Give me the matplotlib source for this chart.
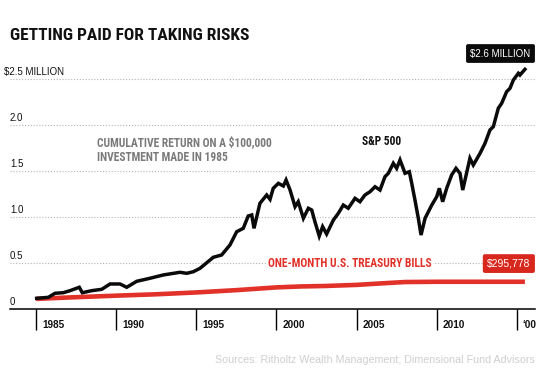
import matplotlib
matplotlib.use("Agg")
from matplotlib import pyplot as plt
from matplotlib import font_manager

# S&P 500 growth of $100,000 (millions)
spYears = [1985.04, 1985.77, 1986.19, 1986.70, 1987.12, 1987.70, 1987.89, 1988.47, 1989.10, 1989.62,
           1990.24, 1990.66, 1991.28, 1992.11, 1992.94, 1993.98, 1994.40, 1994.81, 1995.23, 1996.06,
           1996.58, 1997.10, 1997.52, 1997.93, 1998.24, 1998.46, 1998.60, 1998.97, 1999.39, 1999.60,
           1999.80, 2000.12, 2000.43, 2000.60, 2000.85, 2001.16, 2001.36, 2001.68, 2001.99, 2002.20,
           2002.40, 2002.67, 2002.88, 2003.13, 2003.55, 2003.86, 2004.17, 2004.48, 2004.90, 2005.21,
           2005.52, 2005.84, 2006.15, 2006.46, 2006.77, 2006.98, 2007.29, 2007.50, 2007.71, 2008.02,
           2008.29, 2008.44, 2008.64, 2008.85, 2009.02, 2009.27, 2009.69, 2010.00, 2010.16, 2010.37,
           2010.62, 2010.93, 2011.20, 2011.45, 2011.62, 2012.07, 2012.28, 2012.70, 2013.01, 2013.32,
           2013.53, 2013.84, 2014.05, 2014.36, 2014.57, 2014.78, 2015.09, 2015.19, 2015.50]
spVals = [0.116, 0.127, 0.171, 0.177, 0.199, 0.236, 0.177, 0.199, 0.214, 0.272,
          0.272, 0.236, 0.301, 0.334, 0.370, 0.399, 0.388, 0.405, 0.442, 0.562,
          0.587, 0.696, 0.840, 0.877, 1.011, 1.022, 0.877, 1.149, 1.239, 1.192,
          1.312, 1.366, 1.337, 1.402, 1.293, 1.112, 1.166, 0.986, 1.095, 1.076,
          0.949, 0.793, 0.895, 0.815, 0.967, 1.040, 1.130, 1.095, 1.203, 1.166,
          1.239, 1.275, 1.329, 1.293, 1.438, 1.475, 1.584, 1.529, 1.620, 1.475,
          1.492, 1.366, 1.185, 0.986, 0.804, 0.986, 1.130, 1.221, 1.312, 1.166,
          1.312, 1.457, 1.529, 1.475, 1.293, 1.638, 1.565, 1.692, 1.801, 1.946,
          1.982, 2.182, 2.236, 2.362, 2.399, 2.489, 2.562, 2.543, 2.605]

# one-month T-bills
tbYears = [1985, 1987, 1990, 1992.5, 1995, 1997.5, 2000, 2001.5, 2003, 2005, 2006.5, 2008, 2010, 2015.5]
tbVals = [0.11, 0.125, 0.145, 0.16, 0.18, 0.205, 0.235, 0.245, 0.25, 0.262, 0.278, 0.293, 0.296, 0.296]

tickYears = [1985, 1990, 1995, 2000, 2005, 2010, 2015]
tickLabels = ["1985", "1990", "1995", "2000", "2005", "2010", "\u201800"]
gridVals = [0.5, 1.0, 1.5, 2.0, 2.5]
gridLabels = ["0.5", "1.0", "1.5", "2.0", "$2.5 MILLION"]

plain = ["Liberation Sans", "DejaVu Sans"]
red = "#e23128"

# look for a condensed bold face for the headline-style labels
def findNarrow():
    best = None
    for f in font_manager.fontManager.ttflist:
        nm = f.name.lower()
        isNarrow = ("narrow" in nm or "condensed" in nm or
                    str(f.stretch) in ("condensed", "semi-condensed", "extra-condensed"))
        if isNarrow and f.weight in (700, "bold") and "mono" not in nm and "serif" not in nm:
            rank = 0 if "liberation" in nm else 1 if "roboto" in nm else 2 if "dejavu" in nm else 3
            if best is None or rank < best[0]:
                best = (rank, f.fname, f.name)
    return best

nf = findNarrow()
if nf is not None:
    narrow = dict(fontproperties=font_manager.FontProperties(fname=nf[1]))
    scale = 1.0
else:
    narrow = dict(family=plain, fontweight="bold")
    scale = 0.82

fig = plt.figure(figsize=(5.45, 3.88), dpi=100)
ax = fig.add_axes([10/545, 1-309/388, 525/545, 264/388])
ax.set_xlim(1985 - 26/16.03, 1985 + 499/16.03)
ax.set_ylim(0, 264/92)

for g in gridVals:
    ax.axhline(g, color="#b5b5b5", lw=0.8, linestyle=(0, (1, 1.6)), zorder=1)
for g, lab in zip([0] + gridVals, ["0"] + gridLabels):
    ax.annotate(lab, xy=(0, g), xycoords=("axes fraction", "data"),
                xytext=(-4.3 if lab.startswith("$") else 0, 2.6), textcoords="offset points",
                ha="left", va="baseline", fontsize=7, family=plain, color="#111111")

ax.plot(tbYears, tbVals, color=red, lw=3.3, solid_capstyle="butt", zorder=3)
ax.plot(spYears, spVals, color="#0a0a0a", lw=2.5, solid_joinstyle="miter", zorder=4)

for s in ["top", "left", "right"]:
    ax.spines[s].set_visible(False)
ax.spines["bottom"].set_linewidth(1.1)
ax.set_yticks([])
ax.set_xticks(tickYears)
ax.tick_params(axis="x", direction="out", length=15, width=1.0, color="black", labelbottom=False)
for yr, lab in zip(tickYears, tickLabels):
    ax.annotate(lab, xy=(yr, 0), xycoords=("data", "axes fraction"), xytext=(4.3, -14),
                textcoords="offset points", ha="left", va="baseline",
                fontsize=7.2, fontweight="bold", family=plain, color="#111111")

def nt(x, y, s, size, color, **kw):
    props = dict(narrow)
    if "fontproperties" in props:
        fp = props["fontproperties"].copy()
        fp.set_size(size * scale)
        props["fontproperties"] = fp
    else:
        props["fontsize"] = size * scale
    return ax.text(x, y, s, transform=ax.transAxes, color=color, **props, **kw)

nt(87/525, 0.602, "CUMULATIVE RETURN ON A $100,000\nINVESTMENT MADE IN 1985", 8.3, "#7a7a7a",
   ha="left", va="center", linespacing=1.25)
nt(352/525, 0.633, "S&P 500", 8.3, "#111111", ha="left", va="center")
nt(258/525, 0.1705, "ONE-MONTH U.S. TREASURY BILLS", 8.3, red, ha="left", va="center",
   bbox=dict(boxstyle="square,pad=0.15", fc="white", ec="none"), zorder=5)
nt(0, (309-40)/264, "GETTING PAID FOR TAKING RISKS", 12.5, "#111111", ha="left", va="baseline")

ax.annotate("$2.6 MILLION", xy=(1, spVals[-1]), xycoords=("axes fraction", "data"),
            xytext=(-3.2, 11.4), textcoords="offset points", ha="right", va="center",
            fontsize=7, family=plain, color="white", zorder=6,
            bbox=dict(boxstyle="round,pad=0.45,rounding_size=0.2", fc="#0a0a0a", ec="none"))
ax.annotate("$295,778", xy=(1, tbVals[-1]), xycoords=("axes fraction", "data"),
            xytext=(-3.2, 13.1), textcoords="offset points", ha="right", va="center",
            fontsize=7.5, family=plain, color="white", zorder=6,
            bbox=dict(boxstyle="round,pad=0.42,rounding_size=0.2", fc="#d8281d", ec="none"))

fig.text(535/545, 1-363/388, "Sources: Ritholtz Wealth Management; Dimensional Fund Advisors",
         ha="right", va="baseline", fontsize=7.7, family=plain, color="#cfcfcf")

fig.savefig("out.png", dpi=100)
